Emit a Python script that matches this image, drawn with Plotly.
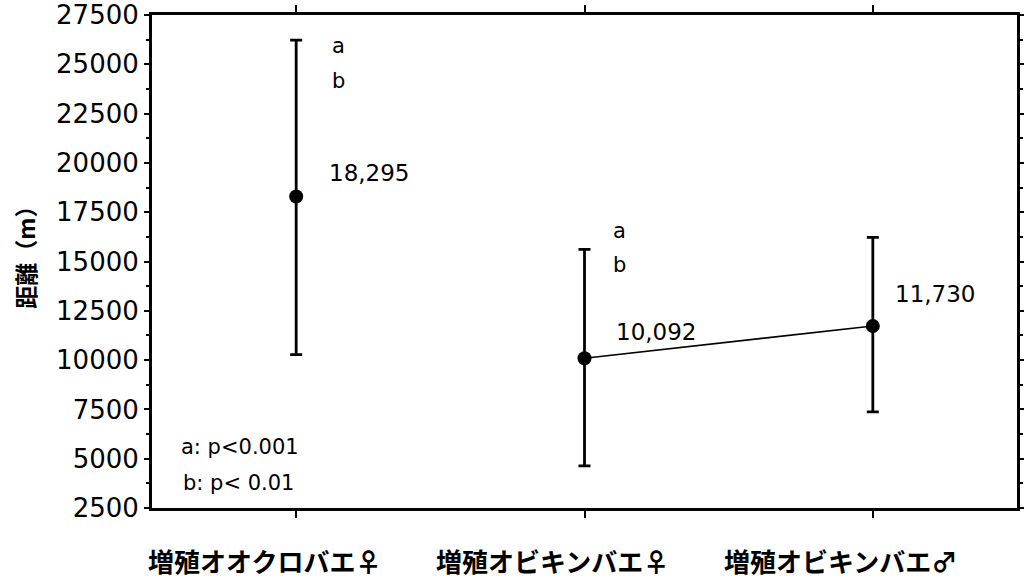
import plotly.graph_objects as go

categories = ["増殖オオクロバエ♀", "増殖オビキンバエ♀", "増殖オビキンバエ♂"]
means = [18295, 10092, 11730]
upper = [26230, 15610, 16220]
lower = [10274, 4634, 7378]
value_labels = ["18,295", "10,092", "11,730"]
sig_groups = [0, 1]  # categories with "a"/"b" marks
y_ticks = [2500, 5000, 7500, 10000, 12500, 15000, 17500, 20000, 22500, 25000, 27500]

xs = list(range(len(categories)))
err_plus = [u - m for u, m in zip(upper, means)]
err_minus = [m - l for m, l in zip(means, lower)]

NUM_FONT = "DejaVu Sans"
CJK_FONT = "Noto Sans CJK JP"

fig = go.Figure()

# connecting line between the two オビキンバエ groups
fig.add_trace(go.Scatter(
    x=xs[1:], y=means[1:], mode="lines",
    line=dict(color="black", width=1.6), hoverinfo="skip", showlegend=False))

fig.add_trace(go.Scatter(
    x=xs, y=means, mode="markers",
    marker=dict(color="black", size=14),
    error_y=dict(type="data", symmetric=False, array=err_plus, arrayminus=err_minus,
                 color="black", thickness=2.8, width=6),
    showlegend=False))

annotations = []
# value labels
label_shift = [31, 29, 20]
label_yshift = [24, 26, 32]
for i, (m, t) in enumerate(zip(means, value_labels)):
    annotations.append(dict(x=xs[i], y=m, text=t, showarrow=False, xanchor="left",
                            yanchor="middle", xshift=label_shift[i], yshift=label_yshift[i],
                            font=dict(family=NUM_FONT, size=23, color="black")))
# a / b significance marks
ab_shift = [34, 26]
for j, i in enumerate(sig_groups):
    annotations.append(dict(x=xs[i], y=upper[i], text="a", showarrow=False, xanchor="left",
                            yanchor="middle", xshift=ab_shift[j], yshift=-6 if i == 0 else 18,
                            font=dict(family=NUM_FONT, size=21, color="black")))
    annotations.append(dict(x=xs[i], y=upper[i], text="b", showarrow=False, xanchor="left",
                            yanchor="middle", xshift=ab_shift[j], yshift=-41 if i == 0 else -16,
                            font=dict(family=NUM_FONT, size=21, color="black")))
# significance legend
annotations.append(dict(x=-0.5, y=5600, text="a: p<0.001", showarrow=False, xanchor="left",
                        yanchor="middle", xshift=27, font=dict(family=NUM_FONT, size=21, color="black")))
annotations.append(dict(x=-0.5, y=3770, text="b: p< 0.01", showarrow=False, xanchor="left",
                        yanchor="middle", xshift=29, font=dict(family=NUM_FONT, size=21, color="black")))
# category labels
for i, c in enumerate(categories):
    annotations.append(dict(x=xs[i], y=0, yref="paper", text="<b>" + c + "</b>", showarrow=False,
                            xanchor="center", yanchor="middle", xshift=-32, yshift=-52,
                            font=dict(family=CJK_FONT, size=26, color="black")))
# y axis title
annotations.append(dict(x=0, y=0.52, xref="paper", yref="paper", text="<b>距離（m）</b>",
                        showarrow=False, textangle=-90, xanchor="center", yanchor="middle",
                        xshift=-127, font=dict(family=CJK_FONT, size=23, color="black")))

fig.update_layout(
    width=1024, height=579,
    margin=dict(l=152, r=7, t=15, b=71, autoexpand=False),
    paper_bgcolor="white", plot_bgcolor="white",
    annotations=annotations,
    xaxis=dict(range=[-0.5, 2.5], tickvals=xs, showticklabels=False, ticks="outside",
               ticklen=7, tickwidth=2, tickcolor="black", showline=True, linecolor="black",
               linewidth=2.5, mirror="ticks", showgrid=False, zeroline=False, automargin=False),
    yaxis=dict(range=[2500, 27500], tickvals=y_ticks, ticktext=[str(v) for v in y_ticks],
               ticks="outside", ticklen=5, automargin=False,
               tickwidth=2, tickcolor="black", showline=True, linecolor="black", linewidth=3,
               mirror="ticks", showgrid=False, zeroline=False,
               tickfont=dict(family=NUM_FONT, size=26, color="black"),
               minor=dict(dtick=1250, ticks="outside", ticklen=3, tickwidth=1.5,
                          tickcolor="black", showgrid=False)),
)

fig.write_html("out.html")
